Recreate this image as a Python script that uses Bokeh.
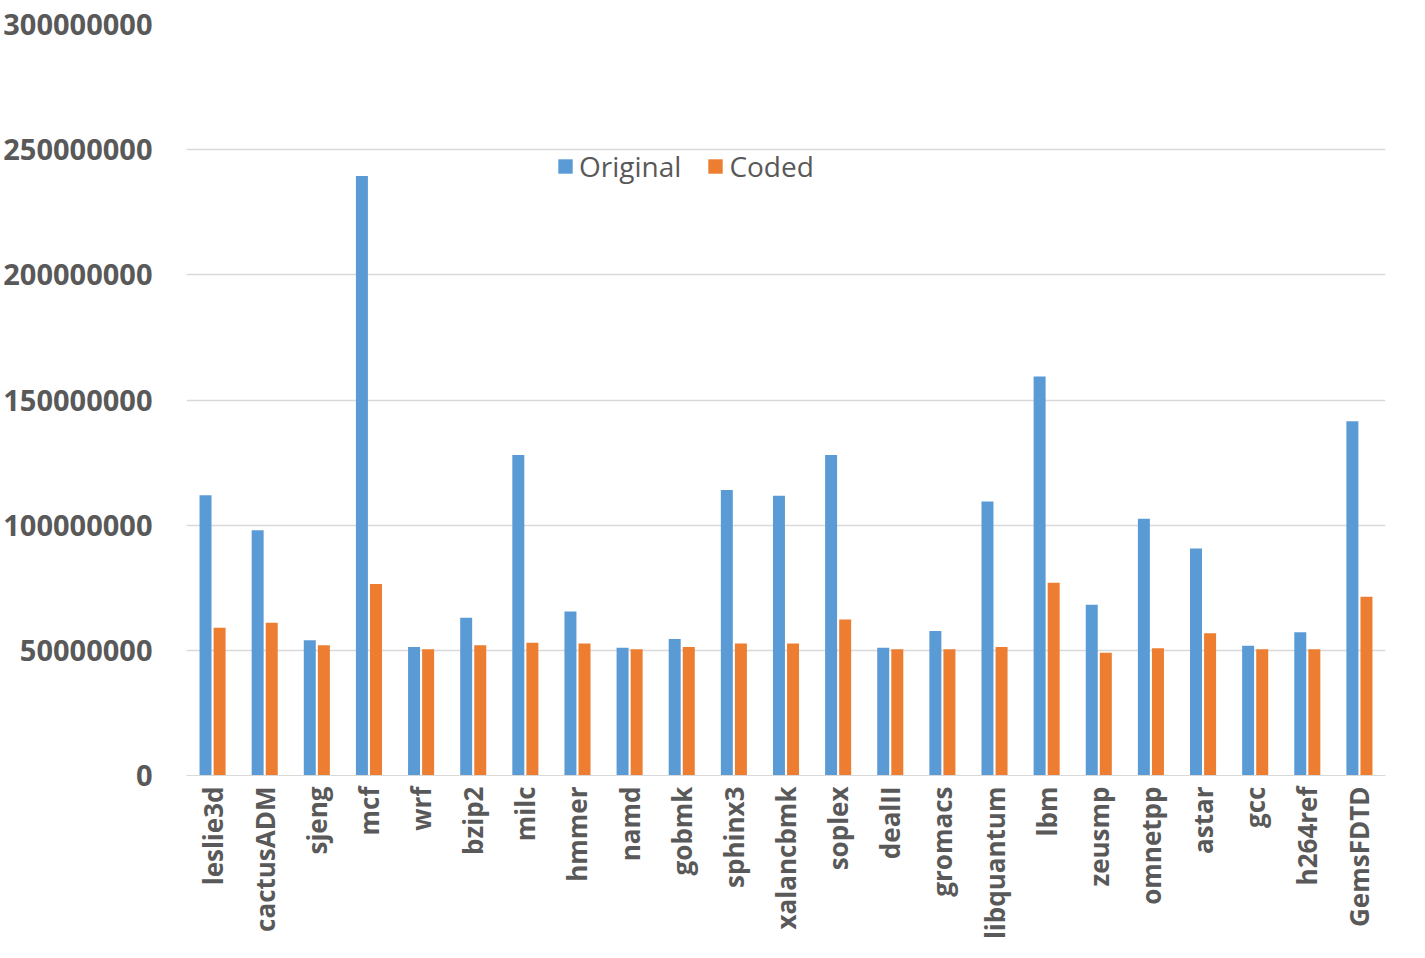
import math
from bokeh.plotting import figure
from bokeh.models import ColumnDataSource, FactorRange, Range1d, Legend, LegendItem, SingleIntervalTicker, BasicTickFormatter
from bokeh.transform import dodge
from bokeh.embed import file_html
from bokeh.resources import INLINE

benchmarks = ["leslie3d", "cactusADM", "sjeng", "mcf", "wrf", "bzip2", "milc", "hmmer", "namd",
              "gobmk", "sphinx3", "xalancbmk", "soplex", "dealII", "gromacs", "libquantum", "lbm",
              "zeusmp", "omnetpp", "astar", "gcc", "h264ref", "GemsFDTD"]
original = [112e6, 98e6, 54e6, 239.5e6, 51.3e6, 63e6, 128e6, 65.5e6, 51e6,
            54.5e6, 114e6, 111.8e6, 128e6, 51e6, 57.7e6, 109.5e6, 159.4e6,
            68.2e6, 102.6e6, 90.7e6, 51.8e6, 57.2e6, 141.5e6]
coded = [59e6, 61e6, 52e6, 76.5e6, 50.4e6, 52e6, 53e6, 52.7e6, 50.4e6,
         51.3e6, 52.7e6, 52.7e6, 62.3e6, 50.4e6, 50.4e6, 51.3e6, 77e6,
         49e6, 50.8e6, 56.8e6, 50.4e6, 50.4e6, 71.4e6]

src = ColumnDataSource(dict(cat=benchmarks, orig=original, coded=coded))

p = figure(width=1409, height=942, x_range=FactorRange(*benchmarks, range_padding=0.0),
           y_range=Range1d(0, 300e6), output_backend="svg", toolbar_location=None,
           min_border_left=10, min_border_right=24, min_border_top=24, min_border_bottom=95)
p.outline_line_color = None
p.border_fill_color = "white"

r1 = p.vbar(x=dodge("cat", -0.135, range=p.x_range), top="orig", width=0.23, source=src,
            fill_color="#5b9bd5", line_color=None)
r2 = p.vbar(x=dodge("cat", 0.135, range=p.x_range), top="coded", width=0.23, source=src,
            fill_color="#ed7d31", line_color=None)

p.yaxis.ticker = SingleIntervalTicker(interval=50e6)
p.yaxis.formatter = BasicTickFormatter(use_scientific=False)
p.yaxis.axis_line_color = None
p.yaxis.major_tick_line_color = None
p.yaxis.minor_tick_line_color = None
p.yaxis.major_label_text_font_size = "29px"
p.yaxis.major_label_text_font_style = "bold"
p.yaxis.major_label_text_color = "#595959"
p.yaxis.major_label_text_font = "Open Sans"
p.yaxis.major_label_standoff = 28

p.xaxis.axis_line_color = "#d9d9d9"
p.xaxis.major_tick_line_color = None
p.xaxis.major_label_orientation = math.pi / 2
p.xaxis.major_label_text_font_size = "26px"
p.xaxis.major_label_text_font_style = "bold"
p.xaxis.major_label_text_color = "#595959"
p.xaxis.major_label_text_font = "Open Sans"

p.xgrid.grid_line_color = None
p.ygrid.grid_line_color = "#d9d9d9"
p.ygrid.grid_line_width = 1.5

legend = Legend(items=[LegendItem(label="Original", renderers=[r1]),
                       LegendItem(label="Coded", renderers=[r2])],
                orientation="horizontal", location=(370, 590),
                label_text_font_size="28px", label_text_color="#595959",
                label_text_font="Open Sans", border_line_color=None,
                background_fill_alpha=0, glyph_width=18, glyph_height=18, spacing=25)
p.add_layout(legend)

open("out.html", "w").write(file_html(p, INLINE))
